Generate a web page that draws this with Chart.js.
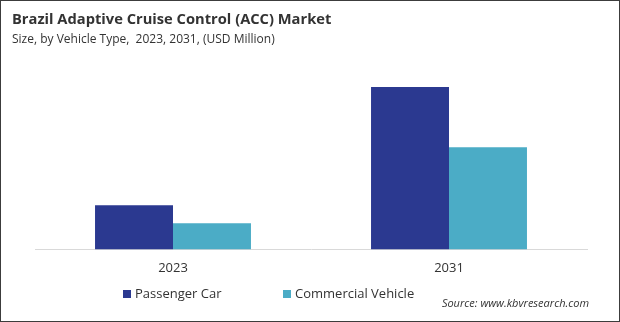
<!DOCTYPE html>
<html>
<head>
<meta charset="utf-8">
<script src="https://cdn.jsdelivr.net/npm/chart.js@4.4.1/dist/chart.umd.min.js"></script>
<style>
  html, body { margin: 0; padding: 0; background: #fff; }
  #wrap { position: relative; width: 620px; height: 322px; }
  canvas { display: block; }
</style>
</head>
<body>
<div id="wrap"><canvas id="c" width="620" height="322"></canvas></div>
<script>
// ---- Data ----
const years = ["2023", "2031"];
const seriesNames = ["Passenger Car", "Commercial Vehicle"];
const passengerCar = [44, 162];
const commercialVehicle = [26, 102];
const yMax = 182;

const titleText = "Brazil Adaptive Cruise Control (ACC) Market";
const subtitleText = "Size, by Vehicle Type,  2023, 2031, (USD Million)";
const sourceText = "Source: www.kbvresearch.com";

const colors = ["#2B3990", "#4BACC6"];
const FONT = "'Open Sans', 'Noto Sans', sans-serif";

const extrasPlugin = {
  id: 'extras',
  afterDraw(chart) {
    const ctx = chart.ctx;
    ctx.save();
    // frame
    ctx.strokeStyle = '#3c3c3c';
    ctx.lineWidth = 1;
    ctx.strokeRect(0.5, 0.5, chart.width - 1, chart.height - 1);
    // custom legend
    const legendX = [123, 283];
    const legendY = 294;
    ctx.font = "13px " + FONT;
    ctx.textBaseline = 'middle';
    ctx.textAlign = 'left';
    chart.data.datasets.forEach((ds, i) => {
      ctx.fillStyle = ds.backgroundColor;
      ctx.fillRect(legendX[i], legendY - 4, 8, 8);
      ctx.fillStyle = '#333333';
      ctx.fillText(ds.label, legendX[i] + 12, legendY);
    });
    // source
    ctx.font = "italic 11px " + FONT;
    ctx.textAlign = 'right';
    ctx.fillStyle = '#333333';
    ctx.fillText(sourceText, 589, 304);
    ctx.restore();
  }
};

new Chart(document.getElementById('c'), {
  type: 'bar',
  data: {
    labels: years,
    datasets: [
      { label: seriesNames[0], data: passengerCar, backgroundColor: colors[0] },
      { label: seriesNames[1], data: commercialVehicle, backgroundColor: colors[1] }
    ]
  },
  options: {
    responsive: false,
    animation: false,
    devicePixelRatio: 1,
    layout: { padding: { left: 12, right: 33, top: 0, bottom: 35 } },
    datasets: { bar: { barPercentage: 1, categoryPercentage: 0.565 } },
    plugins: {
      legend: { display: false },
      tooltip: { enabled: false },
      title: {
        display: true, text: titleText, align: 'start', color: '#333333',
        font: { family: FONT, size: 14.7, weight: 'bold' },
        padding: { top: 11, bottom: 4 }
      },
      subtitle: {
        display: true, text: subtitleText, align: 'start', color: '#333333',
        font: { family: FONT, size: 12 },
        padding: { top: 0, bottom: 20 }
      }
    },
    scales: {
      x: {
        grid: { display: false, drawTicks: false },
        border: { display: true, color: '#d9d9d9', width: 1 },
        ticks: { color: '#333333', font: { family: FONT, size: 13 }, padding: 11 }
      },
      y: {
        min: 0, max: yMax,
        grid: { display: false, drawTicks: false },
        border: { display: false },
        ticks: { display: false },
        afterFit(scale) { scale.width = 23; }
      }
    }
  },
  plugins: [extrasPlugin]
});
</script>
</body>
</html>
